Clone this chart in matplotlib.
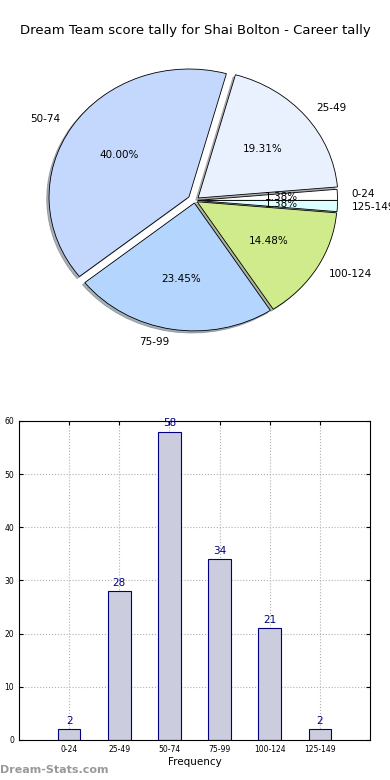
import matplotlib.pyplot as plt

# score ranges and how often each came up
ranges = ['0-24', '25-49', '50-74', '75-99', '100-124', '125-149']
counts = [2, 28, 58, 34, 21, 2]
slice_colors = ['#ffffff', '#eaf1fe', '#c4d8fe', '#b4d5fe', '#cfeb8c', '#d9ffff']
explode = [0.02, 0.03, 0.05, 0.02, 0.02, 0.02]

fig = plt.figure(figsize=(3.9, 7.8), dpi=100)

# pie of the tally
ax1 = fig.add_axes([0.051, 0.538, 0.897, 0.41])
wedges, texts, autotexts = ax1.pie(counts, labels=ranges, colors=slice_colors,
                                   explode=explode, autopct='%1.2f%%',
                                   shadow={'ox': -0.012, 'oy': -0.012, 'shade': 0.55},
                                   startangle=0,
                                   wedgeprops={'edgecolor': 'black', 'linewidth': 0.6},
                                   textprops={'fontsize': 7.5})
ax1.set_aspect('auto')
ax1.set_xlim(-1.25, 1.25)
ax1.set_ylim(-1.25, 1.25)
fig.text(0.5, 0.961, 'Dream Team score tally for Shai Bolton - Career tally',
         ha='center', va='center', fontsize=9.5)

# bar chart of the same numbers
ax2 = fig.add_axes([0.0487, 0.0513, 0.9, 0.409])
pos = list(range(len(ranges)))
ax2.bar(pos, counts, width=0.45, color='#ccccdf', edgecolor='#000080', linewidth=0.8)
for p, c in zip(pos, counts):
    ax2.text(p, c + 0.6, str(c), ha='center', va='bottom', fontsize=7.5, color='#000080')
ax2.set_xlim(-1, 6)
ax2.set_ylim(0, 60)
ax2.set_xticks(pos)
ax2.set_xticklabels(ranges)
ax2.set_yticks(range(0, 61, 10))
ax2.tick_params(labelsize=5.5, direction='in', top=True, right=True, length=3)
ax2.grid(True, linestyle=':', color='#b0b0b0', linewidth=0.8)
ax2.set_axisbelow(True)
ax2.set_xlabel('Frequency', fontsize=7.5, labelpad=2)

fig.text(0.0, 0.013, 'Dream-Stats.com', fontsize=8, color='#999999',
         fontweight='bold', ha='left', va='center')

fig.savefig('out.png', dpi=100)
